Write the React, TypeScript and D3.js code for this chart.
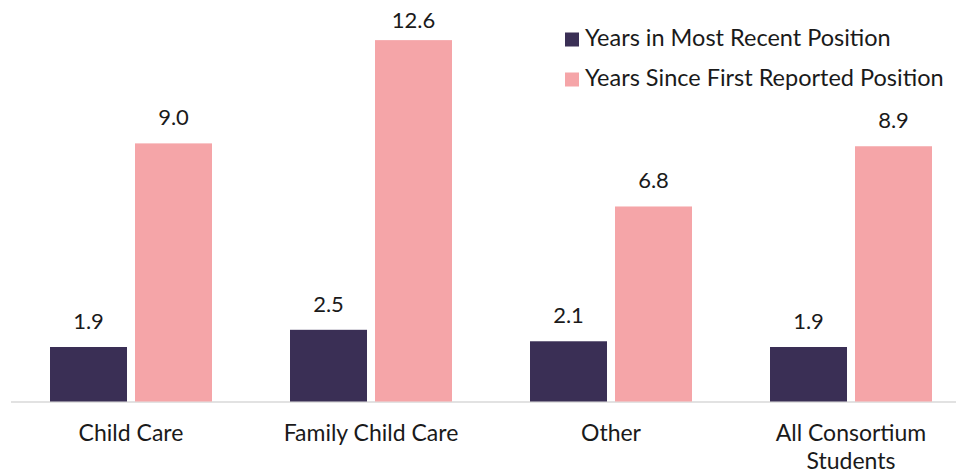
import { useEffect, useRef } from "react";
import * as d3 from "d3";

// chart data
const categories = ["Child Care", "Family Child Care", "Other", "All Consortium Students"];
const categoryLines = [["Child Care"], ["Family Child Care"], ["Other"], ["All Consortium", "Students"]];
const seriesNames = ["Years in Most Recent Position", "Years Since First Reported Position"];
const recentYears = [1.9, 2.5, 2.1, 1.9];
const firstYears = [9.0, 12.6, 6.8, 8.9];
const colors = ["#3a2f55", "#f5a5a8"];

const W = 956;
const H = 474;

export default function App() {
  const svgRef = useRef<SVGSVGElement>(null);

  useEffect(() => {
    document.body.style.margin = "0";
    if (!svgRef.current) return;
    const svg = d3.select(svgRef.current);
    svg.selectAll("*").remove();

    const font = "Lato, 'Noto Sans', sans-serif";
    const baseY = 401.5;

    const x0 = d3
      .scaleBand<string>()
      .domain(categories)
      .range([11, 971])
      .paddingInner(0.325)
      .paddingOuter(0.1625);

    const x1 = d3
      .scaleBand<number>()
      .domain([0, 1])
      .range([0, x0.bandwidth()])
      .paddingInner(0.094);

    const y = d3.scaleLinear().domain([0, 14]).range([baseY, baseY - 14 * 28.68]);

    const series = [recentYears, firstYears];

    // axis line
    svg
      .append("line")
      .attr("x1", 11)
      .attr("x2", W)
      .attr("y1", baseY + 0.5)
      .attr("y2", baseY + 0.5)
      .attr("stroke", "#d9d9d9")
      .attr("stroke-width", 1.5);

    const groups = svg
      .selectAll(".grp")
      .data(categories)
      .enter()
      .append("g")
      .attr("class", "grp")
      .attr("transform", (d) => `translate(${x0(d)},0)`);

    series.forEach((vals, s) => {
      groups
        .append("rect")
        .attr("x", x1(s)!)
        .attr("width", x1.bandwidth())
        .attr("y", (_, i) => y(vals[i]))
        .attr("height", (_, i) => baseY - y(vals[i]))
        .attr("fill", colors[s]);

      // labels sit above bars, but stay inside the top edge
      groups
        .append("text")
        .attr("x", x1(s)! + x1.bandwidth() / 2)
        .attr("y", (_, i) => Math.max(y(vals[i]) - 18, 27.5))
        .attr("text-anchor", "middle")
        .attr("fill", "#1a1a1a")
        .style("font-family", font)
        .style("font-size", "22px")
        .text((_, i) => vals[i].toFixed(1));
    });

    // category labels
    groups.each(function (d, i) {
      const t = d3
        .select(this)
        .append("text")
        .attr("text-anchor", "middle")
        .attr("fill", "#1a1a1a")
        .style("font-family", font)
        .style("font-size", "23px");
      categoryLines[i].forEach((line, j) => {
        t.append("tspan")
          .attr("x", x0.bandwidth() / 2)
          .attr("y", 441 + j * 28)
          .text(line);
      });
    });

    // legend
    const legend = svg.append("g").attr("transform", "translate(565,0)");
    seriesNames.forEach((name, s) => {
      const ly = 46 + s * 40;
      legend
        .append("rect")
        .attr("x", 0)
        .attr("y", ly - 13.5)
        .attr("width", 14)
        .attr("height", 14)
        .attr("fill", colors[s]);
      legend
        .append("text")
        .attr("x", 20)
        .attr("y", ly)
        .attr("fill", "#1a1a1a")
        .style("font-family", font)
        .style("font-size", "23.5px")
        .text(name);
    });
  }, []);

  return <svg ref={svgRef} width={W} height={H} style={{ display: "block", background: "#fff" }} />;
}
